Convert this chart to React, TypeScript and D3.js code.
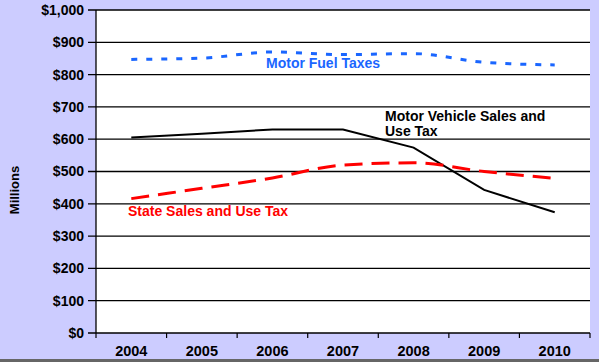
import React from "react";
import * as d3 from "d3";

const years = ["2004", "2005", "2006", "2007", "2008", "2009", "2010"];
const motorFuel = [847, 851, 870, 862, 865, 838, 830];
const motorVehicle = [605, 617, 630, 630, 574, 443, 374];
const stateSales = [416, 448, 480, 520, 527, 500, 479];
const yTicks = [0, 100, 200, 300, 400, 500, 600, 700, 800, 900, 1000];

const W = 599;
const H = 362;
const left = 96;
const right = 590;
const top = 10;
const bottom = 333;

export default function App() {
  const x = d3.scaleBand<string>().domain(years).range([left, right]);
  const y = d3.scaleLinear().domain([0, 1000]).range([bottom, top]);
  const cx = (d: string) => (x(d) as number) + x.bandwidth() / 2;
  const smooth = d3
    .line<number>()
    .x((_, i) => cx(years[i]))
    .y((v) => y(v))
    .curve(d3.curveMonotoneX);
  const straight = d3
    .line<number>()
    .x((_, i) => cx(years[i]))
    .y((v) => y(v));
  const fmt = (v: number) => "$" + d3.format(",")(v);
  const font = "Liberation Sans, Arial, sans-serif";

  return (
    <svg
      width={W}
      height={H}
      style={{ position: "absolute", left: 0, top: 0 }}
      fontFamily={font}
    >
      <rect x={0} y={0} width={W} height={H} fill="#CCCCFF" />
      <rect x={0} y={359} width={W} height={3} fill="#666" />
      <rect x={left} y={top} width={right - left} height={bottom - top} fill="#fff" />
      {yTicks.map((t) => (
        <g key={t}>
          <line x1={left - 8} x2={right} y1={y(t)} y2={y(t)} stroke="#000" strokeWidth={1.3} />
          <text
            x={84}
            y={y(t)}
            dy="0.35em"
            textAnchor="end"
            fontSize={14}
            fontWeight="bold"
            fill="#000"
          >
            {fmt(t)}
          </text>
        </g>
      ))}
      <line x1={left} x2={left} y1={top} y2={bottom} stroke="#000" strokeWidth={1.3} />
      {years.map((yr) => (
        <line
          key={"t" + yr}
          x1={x(yr) as number}
          x2={x(yr) as number}
          y1={bottom}
          y2={bottom + 5}
          stroke="#000"
          strokeWidth={1.2}
        />
      ))}
      <line x1={right} x2={right} y1={bottom} y2={bottom + 5} stroke="#000" strokeWidth={1.2} />
      {years.map((yr) => (
        <text
          key={yr}
          x={cx(yr)}
          y={356}
          textAnchor="middle"
          fontSize={14.5}
          fontWeight="bold"
          fill="#000"
        >
          {yr}
        </text>
      ))}
      <text
        transform={`translate(19,190) rotate(-90)`}
        textAnchor="middle"
        fontSize={13}
        fontWeight="bold"
        fill="#000"
      >
        Millions
      </text>
      <path
        d={smooth(motorFuel) as string}
        fill="none"
        stroke="#1A66FF"
        strokeWidth={3}
        strokeDasharray="6 9"
      />
      <path
        d={straight(motorVehicle) as string}
        fill="none"
        stroke="#000"
        strokeWidth={2}
      />
      <path
        d={smooth(stateSales) as string}
        fill="none"
        stroke="#FF0000"
        strokeWidth={3}
        strokeDasharray="18 9"
      />
      <text x={266} y={68} fontSize={14} fontWeight="bold" fill="#1A66FF">
        Motor Fuel Taxes
      </text>
      <text x={385} y={121} fontSize={14} fontWeight="bold" fill="#000">
        Motor Vehicle Sales and
      </text>
      <text x={385} y={136} fontSize={14} fontWeight="bold" fill="#000">
        Use Tax
      </text>
      <text x={128} y={216} fontSize={14} fontWeight="bold" fill="#FF0000">
        State Sales and Use Tax
      </text>
    </svg>
  );
}
